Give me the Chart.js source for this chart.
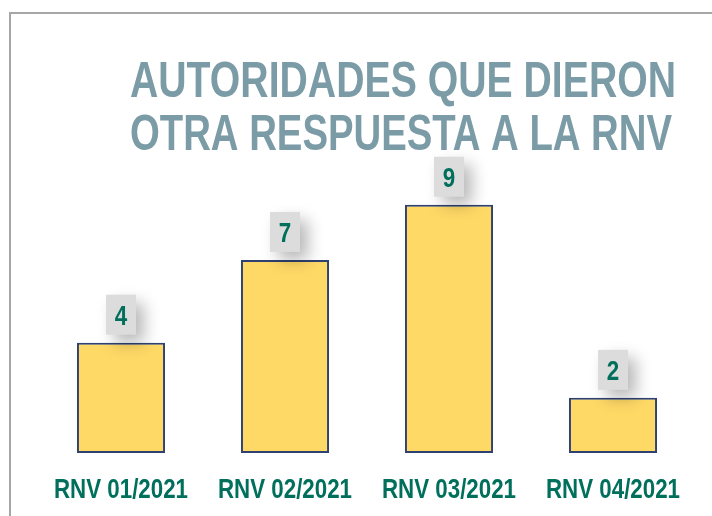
<!DOCTYPE html>
<html>
<head>
<meta charset="utf-8">
<script src="https://cdn.jsdelivr.net/npm/chart.js@4"></script>
<style>
  html, body { margin: 0; padding: 0; background: #fff; }
  #wrap { position: relative; width: 712px; height: 516px; overflow: hidden; }
  #frame { position: absolute; left: 9px; top: 12px; right: -5px; bottom: -5px;
           border-left: 2px solid #a6a6a6; border-top: 2px solid #a6a6a6; }
  #chart { position: absolute; left: 0; top: 0; }
</style>
</head>
<body>
<div id="wrap">
  <div id="frame"></div>
  <canvas id="chart" width="712" height="516"></canvas>
</div>
<script>
const categories = ["RNV 01/2021", "RNV 02/2021", "RNV 03/2021", "RNV 04/2021"];
const values = [4, 7, 9, 2];
const titleLines = ["AUTORIDADES QUE DIERON", "OTRA RESPUESTA A LA RNV"];

const sans = '"Liberation Sans", Arial, sans-serif';
const green = "#006f5b";

// draws text squeezed horizontally, like a narrow face
function narrowText(ctx, text, x, y, font, squeeze, align) {
  ctx.save();
  ctx.font = font;
  ctx.textAlign = align;
  ctx.textBaseline = "alphabetic";
  ctx.translate(x, y);
  ctx.scale(squeeze, 1);
  ctx.fillText(text, 0, 0);
  ctx.restore();
}

const titlePlugin = {
  id: "bigTitle",
  beforeDraw(chart) {
    const ctx = chart.ctx;
    const font = "bold 50px " + sans;
    const widths = [546, 542];
    ctx.save();
    ctx.font = font;
    ctx.fillStyle = "#7b9ca6";
    titleLines.forEach((line, i) => {
      const squeeze = widths[i] / ctx.measureText(line).width;
      narrowText(ctx, line, 130, 97 + i * 53, font, squeeze, "left");
      ctx.font = font;
    });
    ctx.restore();
  },
};

const categoryLabels = {
  id: "categoryLabels",
  afterDraw(chart) {
    const ctx = chart.ctx;
    const xScale = chart.scales.x;
    const font = "bold 28px " + sans;
    ctx.save();
    ctx.font = font;
    const squeeze = 134 / ctx.measureText(categories[0]).width;
    ctx.fillStyle = green;
    categories.forEach((c, i) => {
      narrowText(ctx, c, xScale.getPixelForValue(i), 498, font, squeeze, "center");
    });
    ctx.restore();
  },
};

const valueLabels = {
  id: "valueLabels",
  afterDatasetsDraw(chart) {
    const ctx = chart.ctx;
    const meta = chart.getDatasetMeta(0);
    meta.data.forEach((bar, i) => {
      const w = 30, h = 40;
      const x = bar.x - w / 2;
      const y = bar.y - 8 - h;
      ctx.save();
      ctx.shadowColor = "rgba(0,0,0,0.28)";
      ctx.shadowBlur = 16;
      ctx.shadowOffsetX = 8;
      ctx.shadowOffsetY = 8;
      ctx.fillStyle = "#dcdcdc";
      ctx.fillRect(x, y, w, h);
      ctx.restore();
      ctx.save();
      ctx.fillStyle = green;
      narrowText(ctx, String(values[i]), bar.x, y + 30, "bold 28px " + sans, 0.8, "center");
      ctx.restore();
    });
  },
};

new Chart(document.getElementById("chart"), {
  type: "bar",
  data: {
    labels: categories,
    datasets: [{
      data: values,
      backgroundColor: "#ffd966",
      borderColor: "#2e4170",
      borderWidth: 2,
      borderSkipped: false,
      barPercentage: 0.537,
      categoryPercentage: 1,
    }],
  },
  options: {
    responsive: false,
    animation: false,
    layout: { padding: { left: 39, right: 17, top: 122, bottom: 63 } },
    plugins: {
      legend: { display: false },
      tooltip: { enabled: false },
    },
    scales: {
      x: { display: false },
      y: {
        display: false,
        min: 0,
        max: 12,
      },
    },
  },
  plugins: [titlePlugin, valueLabels, categoryLabels],
});
</script>
</body>
</html>
